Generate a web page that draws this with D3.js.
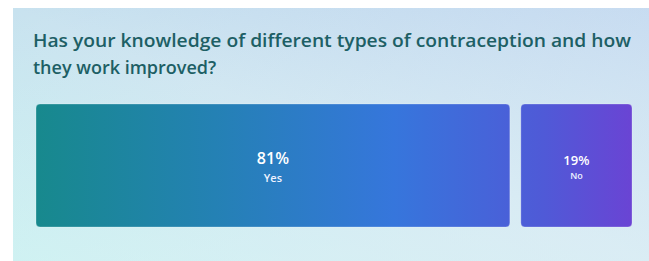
<!DOCTYPE html>
<html>
<head>
<meta charset="utf-8">
<script src="https://cdn.jsdelivr.net/npm/d3@7"></script>
<style>
  html, body { margin: 0; padding: 0; background: #fff; }
  svg { display: block; }
  text { font-family: "Open Sans", "Noto Sans", sans-serif; }
</style>
</head>
<body>
<script>
// question + answers
var titleLines = ["Has your knowledge of different types of contraception and how",
                  "they work improved?"];
var categories = ["Yes", "No"];
var values = [81, 19];

var W = 649, H = 261;
var panel = {x: 13, y: 8};
var chart = {left: 36, right: 632, top: 104, bottom: 227, gap: 11};

var svg = d3.select("body").append("svg")
    .attr("width", W)
    .attr("height", H);

var defs = svg.append("defs");

// background of the card
var bg = defs.append("linearGradient")
    .attr("id", "bg")
    .attr("x1", "0").attr("y1", "1")
    .attr("x2", "1").attr("y2", "0");
bg.append("stop").attr("offset", "0").attr("stop-color", "#c0eeee");
bg.append("stop").attr("offset", "0.5").attr("stop-color", "#c8e2ef");
bg.append("stop").attr("offset", "1").attr("stop-color", "#b5cfec");

var bg2 = defs.append("linearGradient")
    .attr("id", "bg2")
    .attr("x1", "0").attr("y1", "0")
    .attr("x2", "1").attr("y2", "1");
bg2.append("stop").attr("offset", "0").attr("stop-color", "#ffffff").attr("stop-opacity", 0);
bg2.append("stop").attr("offset", "1").attr("stop-color", "#e6f4f8").attr("stop-opacity", 0.6);

// one gradient running across both bars
var barGrad = defs.append("linearGradient")
    .attr("id", "barGrad")
    .attr("gradientUnits", "userSpaceOnUse")
    .attr("x1", chart.left).attr("y1", 0)
    .attr("x2", chart.right).attr("y2", 0);
barGrad.append("stop").attr("offset", "0").attr("stop-color", "#17898d");
barGrad.append("stop").attr("offset", "0.3").attr("stop-color", "#2481b4");
barGrad.append("stop").attr("offset", "0.6").attr("stop-color", "#3676dc");
barGrad.append("stop").attr("offset", "0.85").attr("stop-color", "#4f5ad7");
barGrad.append("stop").attr("offset", "1").attr("stop-color", "#6a44d4");

svg.append("rect")
    .attr("x", panel.x).attr("y", panel.y)
    .attr("width", W - panel.x).attr("height", H - panel.y)
    .attr("fill", "url(#bg)");
svg.append("rect")
    .attr("x", panel.x).attr("y", panel.y)
    .attr("width", W - panel.x).attr("height", H - panel.y)
    .attr("fill", "url(#bg2)");

// title
svg.selectAll("text.title")
    .data(titleLines)
  .enter().append("text")
    .attr("class", "title")
    .attr("x", 33)
    .attr("y", function (d, i) { return 47 + i * 27; })
    .attr("font-size", 18)
    .attr("font-weight", 600)
    .attr("fill", "#1d5f65")
    .text(function (d) { return d; })
    .each(function (d, i) {
      if (i == 0) d3.select(this).attr("textLength", 598).attr("lengthAdjust", "spacingAndGlyphs");
    });

// bars: width proportional to share, fixed gap between them
var x = d3.scaleLinear()
    .domain([0, d3.sum(values)])
    .range([0, chart.right - chart.left - chart.gap * (values.length - 1)]);

var cum = 0;
var bars = values.map(function (v, i) {
  var b = {label: categories[i], value: v, x0: chart.left + x(cum) + i * chart.gap, w: x(v)};
  cum += v;
  return b;
});

var g = svg.selectAll("g.bar")
    .data(bars)
  .enter().append("g")
    .attr("class", "bar");

g.append("rect")
    .attr("x", function (d) { return d.x0; })
    .attr("y", chart.top)
    .attr("width", function (d) { return d.w; })
    .attr("height", chart.bottom - chart.top)
    .attr("rx", 4)
    .attr("fill", "url(#barGrad)")
    .attr("stroke", "rgba(255,255,255,0.25)")
    .attr("stroke-width", 1);

var big = function (d) { return d.value > 50; };

g.append("text")
    .attr("x", function (d) { return d.x0 + d.w / 2; })
    .attr("y", function (d) { return big(d) ? 164 : 165; })
    .attr("text-anchor", "middle")
    .attr("font-size", function (d) { return big(d) ? 16 : 13; })
    .attr("font-weight", 600)
    .attr("fill", "#ffffff")
    .text(function (d) { return d.value + "%"; });

g.append("text")
    .attr("x", function (d) { return d.x0 + d.w / 2; })
    .attr("y", function (d) { return big(d) ? 182 : 179; })
    .attr("text-anchor", "middle")
    .attr("font-size", function (d) { return big(d) ? 11 : 9; })
    .attr("font-weight", 600)
    .attr("fill", "#eef2ff")
    .text(function (d) { return d.label; });
</script>
</body>
</html>
